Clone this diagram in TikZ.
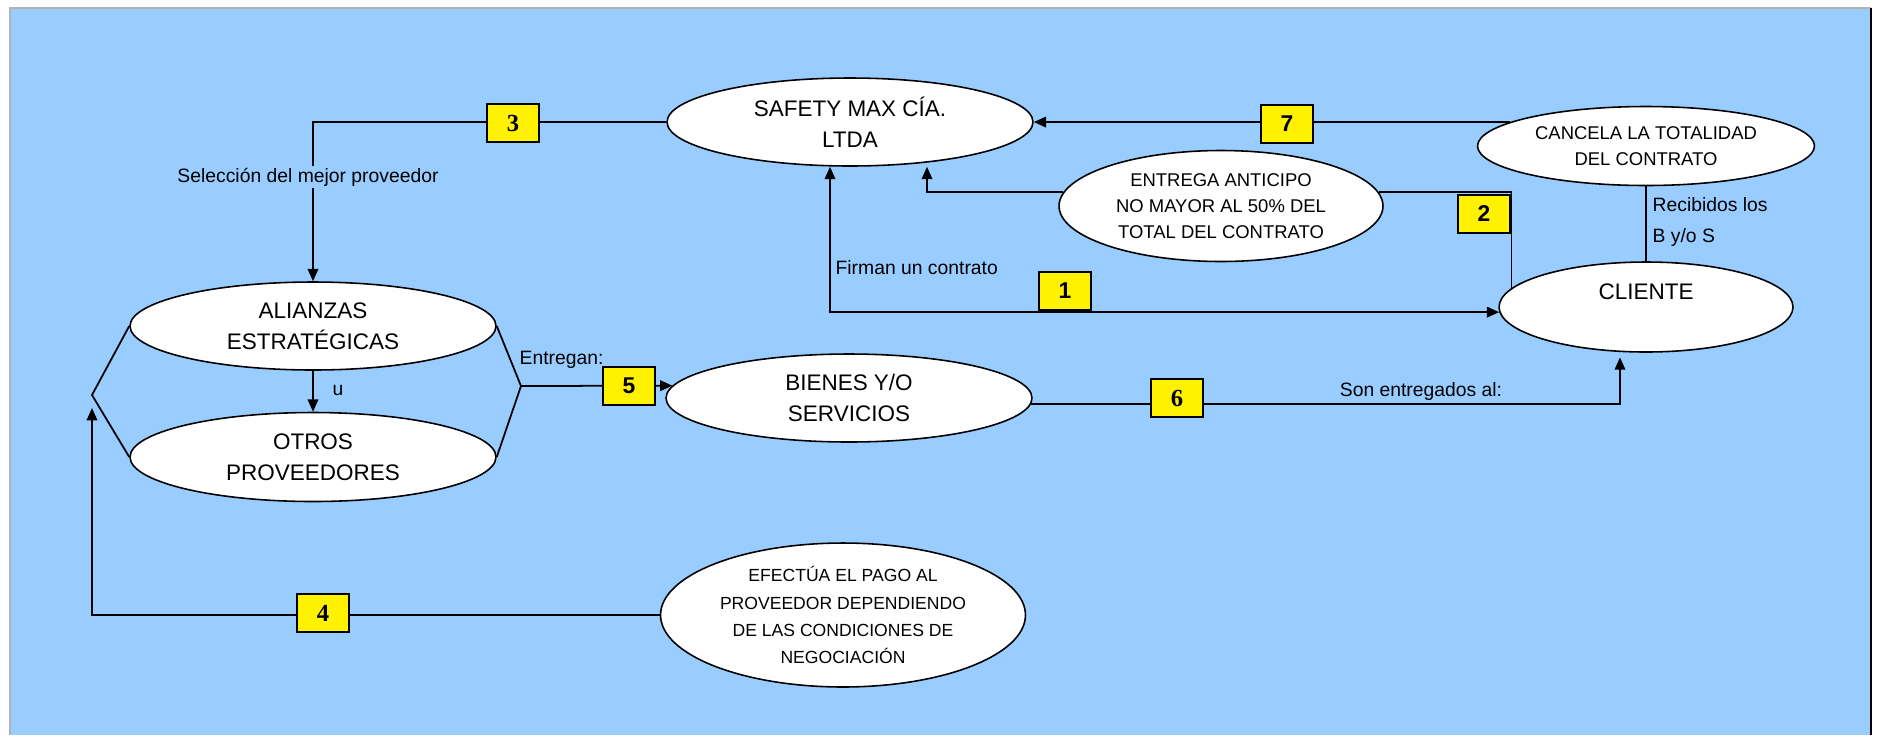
\documentclass[tikz,border=0pt]{standalone}
\usepackage{fontspec}
\setmainfont{Liberation Sans}
\newfontfamily\digitserif{Liberation Serif}
\usetikzlibrary{
	arrows.meta,
	calc,
	positioning,
	shapes,
}
\definecolor{skyback}{HTML}{99CCFF}
\tikzset{oval node/.style={
	draw,
	ellipse,
	fill=white,
	inner sep=0mm,
	align=center,
	line width=0.9pt,
	font=\fontsize{12.8}{17.6}\selectfont,
}}
\tikzset{small oval/.style={
	oval node,
	font=\fontsize{10.5}{14.8}\selectfont,
}}
\tikzset{num box/.style={
	draw,
	fill=yellow,
	line width=1pt,
	minimum width=1.04cm,
	minimum height=0.76cm,
	inner sep=0mm,
	font=\fontsize{13}{13}\selectfont\bfseries,
}}
\tikzset{serif digit/.style={
	font=\fontsize{14}{14}\selectfont\digitserif\bfseries,
}}
\tikzset{note text/.style={
	inner sep=1pt,
	font=\fontsize{11}{17.6}\selectfont,
}}

\begin{document}
\begin{tikzpicture}[x=0.02cm, y=-0.02cm, line width=1pt,
	>={Triangle[length=7pt,width=6pt]}]

% background
\useasboundingbox (0,0) rectangle (1878,735);
\fill[skyback] (10,8) rectangle (1871,735);
\draw[gray!60, line width=1pt] (10,735) -- (10,8) -- (1871,8);
\draw[line width=1pt] (1871,8) -- (1871,735);

% ovals
\node(safety)[oval node, minimum width=7.32cm, minimum height=1.76cm] at (850,122) {SAFETY MAX CÍA.\\LTDA};
\node(alianzas)[oval node, minimum width=7.32cm, minimum height=1.76cm] at (313,326) {ALIANZAS\\ESTRATÉGICAS};
\node(otros)[oval node, minimum width=7.32cm, minimum height=1.78cm] at (313,457) {OTROS\\PROVEEDORES};
\node(bienes)[oval node, minimum width=7.32cm, minimum height=1.76cm] at (849,398) {BIENES Y/O\\SERVICIOS};
\node(cliente)[oval node, minimum width=5.88cm, minimum height=1.8cm] at (1646,307) {CLIENTE\\~};
\node(cancela)[small oval, minimum width=6.74cm, minimum height=1.58cm] at (1646,146) {CANCELA LA TOTALIDAD\\DEL CONTRATO};
\node(entrega)[small oval, minimum width=6.48cm, minimum height=2.22cm] at (1221,206) {ENTREGA ANTICIPO\\NO MAYOR AL 50\% DEL\\TOTAL DEL CONTRATO};
\node(efectua)[small oval, minimum width=7.3cm, minimum height=2.88cm, font=\fontsize{10}{15.4}\selectfont] at (843,615) {EFECTÚA EL PAGO AL\\PROVEEDOR DEPENDIENDO\\DE LAS CONDICIONES DE\\NEGOCIACIÓN};

\coordinate (bl) at (92,395);
\coordinate (br) at (521,386);
\coordinate (bl tip) at (92,408);

% connectors
\draw (alianzas.west) -- (bl) -- (otros.west);
\draw (alianzas.east) -- (br) -- (otros.east);
\draw[->] (safety.west) -| (alianzas.north);
\draw[->] (alianzas.south) -- (otros.north);
\draw[->] (br) -- (bienes.176);
\draw[->, shorten >=3pt] (bienes.358) -| (cliente.240);
\draw[->] (cancela.170) -- (cancela.170 -| safety.east);
\draw[->] (entrega.175) -| ($(safety.south)+(77,0)$);
\draw[<->] ($(safety.south)+(-20,0)$) |- (cliente.182);
\draw (entrega.5) -| (cliente.172);
\draw (cancela.south) -- (cliente.north);
\draw[->] (efectua.west) -| (bl tip);

% numbers
\node(n1)[num box] at (1065,291) {1};
\node(n2)[num box] at (1484,214) {2};
\node(n3)[num box, serif digit] at (513,123) {3};
\node(n4)[num box, serif digit] at (323,613) {4};
\node(n5)[num box] at (629,386) {5};
\node(n6)[num box, serif digit] at (1177,398) {6};
\node(n7)[num box] at (1287,124) {7};

% labels
\node(select)[note text, fill=skyback] at (308,177) {Selección del mejor proveedor};
\node(firman)[note text, anchor=west] at (833,268) {Firman un contrato};
\node(entregan)[note text, anchor=west] at (517,360) {Entregan:};
\node(u label)[note text, anchor=west] at (330,390) {u};
\node(son)[note text] at (1421,391) {Son entregados al:};
\node(recibidos)[note text, anchor=west, align=left] at (1650,222) {Recibidos los\\B y/o S};

\end{tikzpicture}
\end{document}
